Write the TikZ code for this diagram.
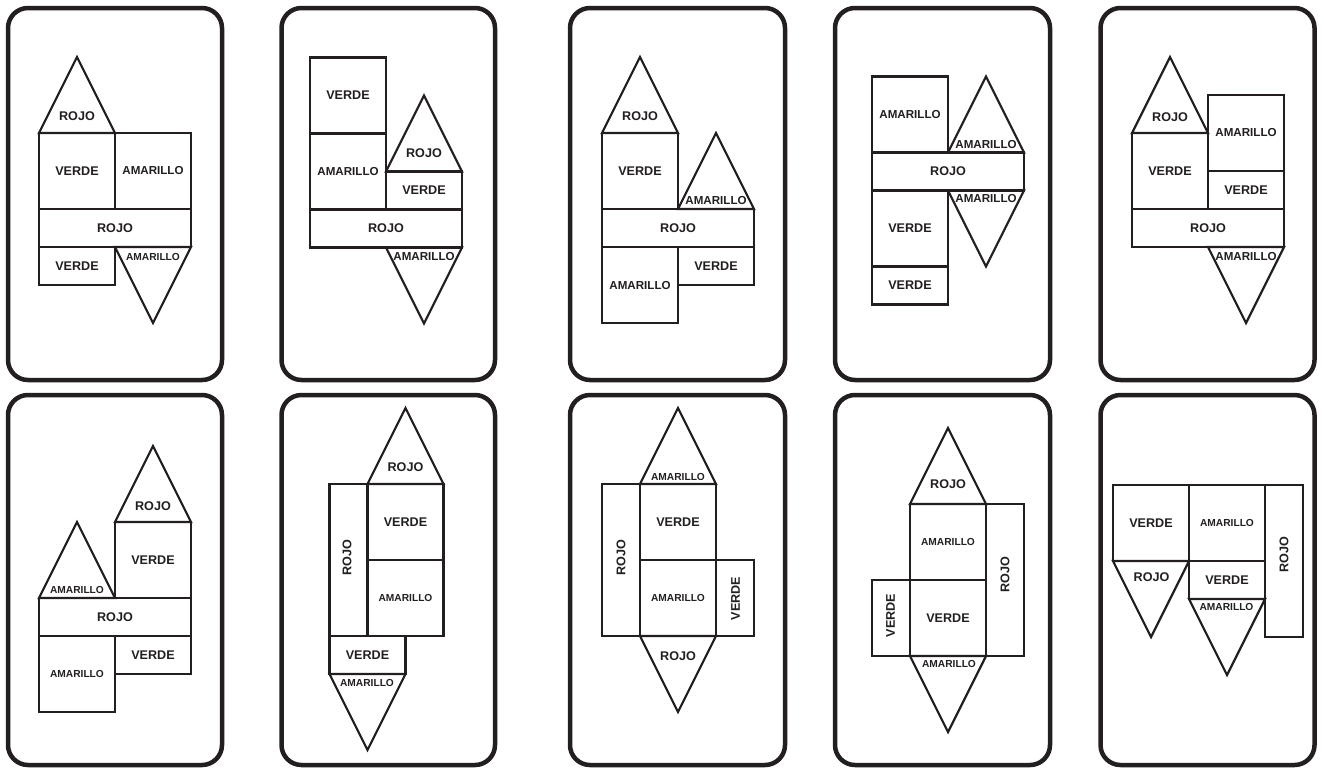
\documentclass[tikz,border=0pt]{standalone}
\usepackage{fontspec}
\setmainfont{Liberation Sans}
\usepackage{tikz}
\usetikzlibrary{positioning}
\definecolor{ink}{HTML}{231F20}

\begin{document}
\begin{tikzpicture}[
  x=1pt, y=-1pt,
  node distance = 0pt,
  card/.style = {draw=ink, line width=4.5pt, rounded corners=20pt},
  face/.style = {draw=ink, line width=2.2pt, outer sep=0pt, inner sep=0pt,
    text=ink, font=\fontsize{12.6}{14}\selectfont\bfseries},
  sq/.style   = {face, minimum width=76pt, minimum height=76pt},
  half/.style = {face, minimum width=76pt, minimum height=38pt},
  bar/.style  = {face, minimum width=152pt, minimum height=38pt},
  tall/.style = {face, minimum width=38pt, minimum height=152pt},
  post/.style = {face, minimum width=38pt, minimum height=76pt},
  tri/.style  = {draw=ink, line width=2.2pt, line join=miter},
  lbl/.style  = {text=ink, inner sep=0pt, font=\fontsize{12.6}{14}\selectfont\bfseries},
  amar/.style = {font=\fontsize{11.6}{13}\selectfont\bfseries},
  amsm/.style = {font=\fontsize{10.2}{12}\selectfont\bfseries}
]
\useasboundingbox (0,0) rectangle (1324,769);

% card frames
\foreach \xl/\xr in {8/222, 281.5/495, 570/785, 835/1050, 1100.5/1314.5}
  \foreach \yt/\yb in {8/380, 395/765}
    \draw[card] (\xl,\yt) rectangle (\xr,\yb);

% card 1
\node[sq] (v1) at (77,171) {VERDE};
\node[sq, right=of v1, amar] (a1) {AMARILLO};
\node[bar, below=of v1.south east] (r1) {ROJO};
\node[half, anchor=north west] (g1) at (r1.south west) {VERDE};
\draw[tri] (v1.north west) -- ++(38,-76) -- (v1.north east) -- cycle;
\node[lbl] (t1a) at (77,116) {ROJO};
\draw[tri] (r1.south) -- ++(38,76) -- (r1.south east) -- cycle;
\node[lbl, amsm] (t1b) at (153,257) {AMARILLO};

% card 2
\node[sq] (v2) at (348,95.5) {VERDE};
\node[sq, below=of v2, amar] (a2) {AMARILLO};
\node[bar, anchor=north west] (r2) at (a2.south west) {ROJO};
\node[half, anchor=south west] (g2) at (a2.south east) {VERDE};
\draw[tri] (g2.north west) -- ++(38,-76) -- (g2.north east) -- cycle;
\node[lbl] (t2a) at (424,153) {ROJO};
\draw[tri] (r2.south) -- ++(38,76) -- (r2.south east) -- cycle;
\node[lbl, amar] (t2b) at (424,256.5) {AMARILLO};

% card 3
\node[sq] (v3) at (640,171) {VERDE};
\node[bar, below=of v3.south east] (r3) {ROJO};
\node[sq, anchor=north west, amar] (a3) at (r3.south west) {AMARILLO};
\node[half, anchor=north east] (g3) at (r3.south east) {VERDE};
\draw[tri] (v3.north west) -- ++(38,-76) -- (v3.north east) -- cycle;
\node[lbl] (t3a) at (640,116) {ROJO};
\draw[tri] (r3.north) -- ++(38,-76) -- (r3.north east) -- cycle;
\node[lbl, amar] (t3b) at (716,201) {AMARILLO};

% card 4
\node[sq, amar] (a4) at (910,114.5) {AMARILLO};
\node[bar, below=of a4.south east] (r4) {ROJO};
\node[sq, anchor=north west] (v4) at (r4.south west) {VERDE};
\node[half, below=of v4] (g4) {VERDE};
\draw[tri] (r4.north) -- ++(38,-76) -- (r4.north east) -- cycle;
\node[lbl, amar] (t4a) at (986,144.5) {AMARILLO};
\draw[tri] (r4.south) -- ++(38,76) -- (r4.south east) -- cycle;
\node[lbl, amar] (t4b) at (986,198.5) {AMARILLO};

% card 5
\node[sq] (v5) at (1170,171) {VERDE};
\node[bar, below=of v5.south east] (r5) {ROJO};
\node[half, anchor=south west] (g5) at (v5.south east) {VERDE};
\node[sq, above=of g5, amar] (a5) {AMARILLO};
\draw[tri] (v5.north west) -- ++(38,-76) -- (v5.north east) -- cycle;
\node[lbl] (t5a) at (1170,117) {ROJO};
\draw[tri] (r5.south) -- ++(38,76) -- (r5.south east) -- cycle;
\node[lbl, amar] (t5b) at (1246,256) {AMARILLO};

% card 6
\node[sq] (v6) at (153,560) {VERDE};
\node[bar, below=of v6.south west] (r6) {ROJO};
\node[sq, anchor=north west, amsm] (a6) at (r6.south west) {AMARILLO};
\node[half, anchor=north east] (g6) at (r6.south east) {VERDE};
\draw[tri] (v6.north west) -- ++(38,-76) -- (v6.north east) -- cycle;
\node[lbl] (t6a) at (153,506) {ROJO};
\draw[tri] (r6.north west) -- ++(38,-76) -- (r6.north) -- cycle;
\node[lbl, amsm] (t6b) at (77,590) {AMARILLO};

% card 7
\node[sq] (v7) at (405.5,522) {VERDE};
\node[sq, below=of v7, amsm] (a7) {AMARILLO};
\node[tall, anchor=north east] (r7) at (v7.north west) {};
\node[lbl, rotate=90] (r7l) at (347,557.5) {ROJO};
\node[half, anchor=north west] (g7) at (r7.south west) {VERDE};
\draw[tri] (v7.north west) -- ++(38,-76) -- (v7.north east) -- cycle;
\node[lbl] (t7a) at (405.5,467) {ROJO};
\draw[tri] (g7.south west) -- ++(38,76) -- (g7.south east) -- cycle;
\node[lbl, amsm] (t7b) at (367,683) {AMARILLO};

% card 8
\node[sq] (v8) at (678,522) {VERDE};
\node[sq, below=of v8, amsm] (a8) {AMARILLO};
\node[tall, anchor=north east] (r8) at (v8.north west) {};
\node[lbl, rotate=90] (r8l) at (621,557.5) {ROJO};
\node[post, right=of a8] (g8) {};
\node[lbl, rotate=90] (g8l) at (735.5,598.5) {VERDE};
\draw[tri] (v8.north west) -- ++(38,-76) -- (v8.north east) -- cycle;
\node[lbl, amsm] (t8a) at (678,476.5) {AMARILLO};
\draw[tri] (a8.south west) -- ++(38,76) -- (a8.south east) -- cycle;
\node[lbl] (t8b) at (678,656.5) {ROJO};

% card 9
\node[sq, amsm] (a9) at (948,542) {AMARILLO};
\node[sq, below=of a9] (v9) {VERDE};
\node[tall, anchor=north west] (r9) at (a9.north east) {};
\node[lbl, rotate=90] (r9l) at (1005,575) {ROJO};
\node[post, left=of v9] (g9) {};
\node[lbl, rotate=90] (g9l) at (890.5,615.5) {VERDE};
\draw[tri] (a9.north west) -- ++(38,-76) -- (a9.north east) -- cycle;
\node[lbl] (t9a) at (948,484) {ROJO};
\draw[tri] (v9.south west) -- ++(38,76) -- (v9.south east) -- cycle;
\node[lbl, amsm] (t9b) at (949,663.5) {AMARILLO};

% card 10
\node[sq] (v10) at (1151,523) {VERDE};
\node[sq, right=of v10, amsm] (a10) {AMARILLO};
\node[tall, anchor=north west] (r10) at (a10.north east) {};
\node[lbl, rotate=90] (r10l) at (1284,554.5) {ROJO};
\node[half, below=of a10] (g10) {VERDE};
\draw[tri] (v10.south west) -- ++(38,76) -- (v10.south east) -- cycle;
\node[lbl] (t10a) at (1151.5,577.5) {ROJO};
\draw[tri] (g10.south west) -- ++(38,76) -- (g10.south east) -- cycle;
\node[lbl, amsm] (t10b) at (1226.5,607) {AMARILLO};
\end{tikzpicture}
\end{document}
